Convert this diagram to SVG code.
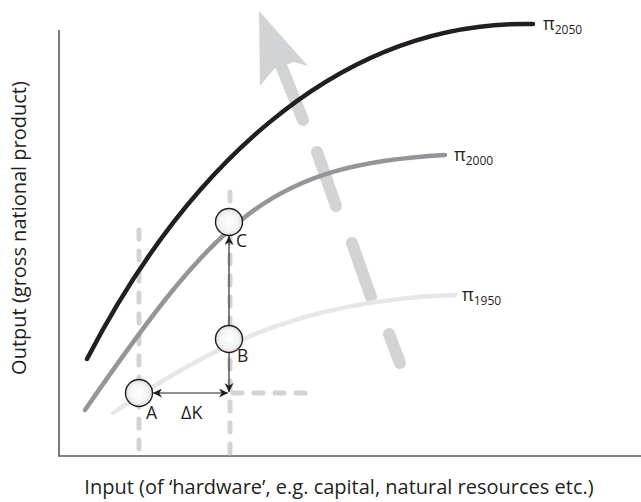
<svg xmlns="http://www.w3.org/2000/svg" width="641" height="502" viewBox="0 0 641 502">
<style>
.axis{stroke:#58595b;stroke-width:1.6;fill:none}
.curve{fill:none;stroke-width:4.5;stroke-linecap:round}
.guide{fill:none;stroke:#d1d3d4;stroke-width:5;stroke-linecap:round;stroke-dasharray:9 12}
.big{fill:none;stroke:#d1d3d4;stroke-width:12;stroke-linecap:round}
.conn{fill:none;stroke:#231f20;stroke-width:1.1}
.lbl{font-family:"Open Sans","Noto Sans","Liberation Sans",sans-serif;fill:#231f20}
.pt{fill:url(#g);stroke:#231f20;stroke-width:1.4}
</style>
<defs>
<radialGradient id="g" cx="0.5" cy="0.5" r="0.55">
<stop offset="0" stop-color="#ffffff"/>
<stop offset="0.6" stop-color="#f4f4f4"/>
<stop offset="1" stop-color="#d8d8d8"/>
</radialGradient>
<marker id="ah" viewBox="0 0 10 10" refX="10" refY="5" markerWidth="9" markerHeight="9" markerUnits="userSpaceOnUse" orient="auto-start-reverse">
<path d="M0,0 L10,5 L0,10 L3,5 Z" fill="#231f20"/>
</marker>
</defs>
<g id="axes">
<path class="axis" d="M59,30 V456 H641"/>
</g>
<g id="growth-arrow">
<line class="big" x1="400" y1="363" x2="389" y2="334"/>
<line class="big" x1="371" y1="297" x2="352" y2="243"/>
<line class="big" x1="336" y1="206" x2="317" y2="152"/>
<line class="big" x1="303" y1="120" x2="282" y2="68"/>
<polygon points="259,11 308,66 294,62 274,69 260,86" fill="#d1d3d4"/>
</g>
<g id="guides">
<line class="guide" x1="139" y1="230" x2="139" y2="456"/>
<line class="guide" x1="230" y1="192" x2="230" y2="456"/>
<line class="guide" x1="233" y1="393" x2="307" y2="393"/>
</g>
<g id="pi1950">
<path class="curve" stroke="#e6e7e8" d="M113,413 C200,355 290,300 455,295"/>
<text class="lbl" x="462" y="301" font-size="18">π<tspan font-size="12" dy="4">1950</tspan></text>
</g>
<g id="pi2000">
<path class="curve" stroke="#939598" d="M85,410 C220,215 270,165 445,155"/>
<text class="lbl" x="454" y="161" font-size="18">π<tspan font-size="12" dy="4">2000</tspan></text>
</g>
<g id="pi2050">
<path class="curve" stroke="#231f20" d="M87,359 C180,180 330,20 533,24"/>
<text class="lbl" x="543" y="30" font-size="18">π<tspan font-size="12" dy="4">2050</tspan></text>
</g>
<g id="connectors">
<line class="conn" x1="229" y1="326" x2="229" y2="236" marker-end="url(#ah)"/>
<line class="conn" x1="229" y1="352" x2="229" y2="392" marker-end="url(#ah)"/>
<line class="conn" x1="153" y1="393" x2="228" y2="393" marker-start="url(#ah)" marker-end="url(#ah)"/>
</g>
<g id="A">
<circle class="pt" cx="139" cy="393" r="13.5"/>
<text class="lbl" x="146" y="419" font-size="17.5">A</text>
</g>
<g id="B">
<circle class="pt" cx="229" cy="339" r="13.5"/>
<text class="lbl" x="237" y="362" font-size="17.5">B</text>
</g>
<g id="C">
<circle class="pt" cx="229" cy="222" r="13.5"/>
<text class="lbl" x="236" y="247" font-size="17.5">C</text>
</g>
<g id="dK">
<text class="lbl" x="181" y="419" font-size="18">ΔK</text>
</g>
<text class="lbl" x="339" y="494" font-size="20" text-anchor="middle">Input (of ‘hardware’, e.g. capital, natural resources etc.)</text>
<text class="lbl" transform="translate(26,228) rotate(-90)" font-size="20" text-anchor="middle">Output (gross national product)</text>
</svg>
